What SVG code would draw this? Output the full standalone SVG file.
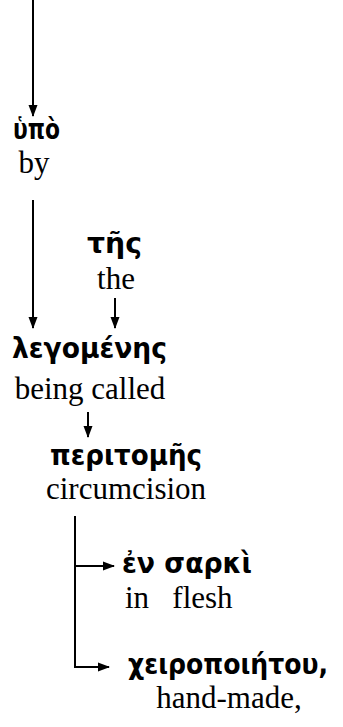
<svg xmlns="http://www.w3.org/2000/svg" width="343" height="727" viewBox="0 0 343 727">
<defs>
<marker id="ah" markerWidth="12" markerHeight="10" refX="11" refY="5" orient="auto" markerUnits="userSpaceOnUse">
<path d="M0,0.5 L12,5 L0,9.5 Z" fill="#000"/>
</marker>
<style>
.gr{font-family:'DejaVu Sans',sans-serif;font-weight:bold;font-size:28px;fill:#000}
.en{font-family:'Times New Roman','Liberation Serif','DejaVu Serif',serif;font-size:31px;fill:#000}
.c{fill:none;stroke:#000;stroke-width:2}
</style>
</defs>
<rect width="343" height="727" fill="#fff"/>
<g id="connectors">
<path class="c" d="M33,0 V116" marker-end="url(#ah)"/>
<path class="c" d="M33,200 V328" marker-end="url(#ah)"/>
<path class="c" d="M115,298 V328" marker-end="url(#ah)"/>
<path class="c" d="M88,412 V437" marker-end="url(#ah)"/>
<path class="c" d="M75,516 V668"/>
<path class="c" d="M74,566 H114" marker-end="url(#ah)"/>
<path class="c" d="M74,667 H109" marker-end="url(#ah)"/>
</g>
<g id="hypo">
<text class="gr" x="13" y="139" textLength="47" lengthAdjust="spacingAndGlyphs">ὑπὸ</text>
<text class="en" x="34" y="173" text-anchor="middle">by</text>
</g>
<g id="tes">
<text class="gr" x="87" y="253" textLength="55" lengthAdjust="spacingAndGlyphs">τῆς</text>
<text class="en" x="116" y="289" text-anchor="middle">the</text>
</g>
<g id="legomenes">
<text class="gr" x="12" y="358" textLength="155" lengthAdjust="spacingAndGlyphs">λεγομένης</text>
<text class="en" x="90" y="399" text-anchor="middle">being called</text>
</g>
<g id="peritomes">
<text class="gr" x="50" y="465" textLength="152" lengthAdjust="spacingAndGlyphs">περιτομῆς</text>
<text class="en" x="126" y="499" text-anchor="middle">circumcision</text>
</g>
<g id="en-sarki">
<text class="gr" x="122" y="573" textLength="130" lengthAdjust="spacingAndGlyphs">ἐν σαρκὶ</text>
<text class="en" x="125" y="608" xml:space="preserve">in   flesh</text>
</g>
<g id="cheiropoietou">
<text class="gr" x="128" y="674" font-size="25" textLength="200" lengthAdjust="spacingAndGlyphs">χειροποιήτου,</text>
<text class="en" x="229" y="708" text-anchor="middle">hand-made,</text>
</g>
</svg>
